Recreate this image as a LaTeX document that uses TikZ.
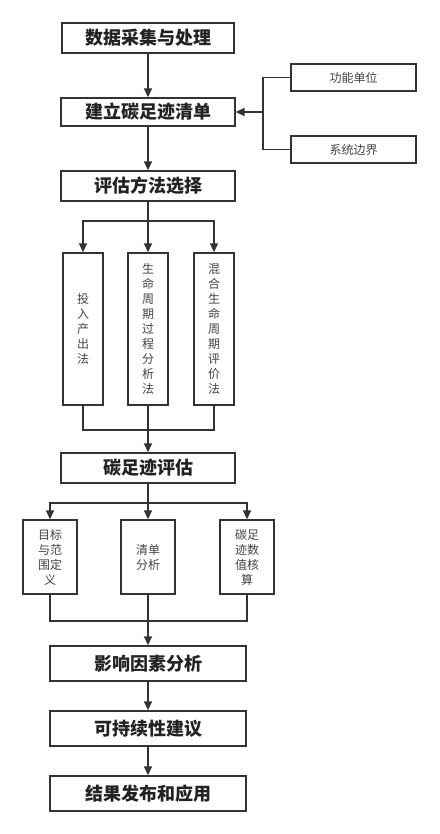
\documentclass[tikz,border=0pt]{standalone}
\usepackage{fontspec}
\setmainfont{Noto Sans CJK SC}
\usetikzlibrary{arrows.meta}
\definecolor{ln}{HTML}{333333}
\definecolor{tx}{HTML}{222222}
\tikzset{
  mainbox/.style={draw=ln, line width=1.4pt, fill=white, text=tx, font=\fontsize{18}{20}\selectfont\bfseries, inner sep=0pt, align=center},
  smallbox/.style={draw=ln, line width=1.4pt, fill=white, text=tx!85, font=\fontsize{12}{15}\selectfont, inner sep=0pt, align=center},
  conn/.style={draw=ln, line width=1.5pt},
  arr/.style={conn, -{Triangle[length=9pt,width=8pt]}}
}
\begin{document}
\begin{tikzpicture}[x=1pt,y=-1pt]
\useasboundingbox (0,0) rectangle (439,834);
% main boxes
\node[mainbox, minimum width=172pt, minimum height=30pt] (b1) at (148,38) {数据采集与处理};
\node[mainbox, minimum width=174pt, minimum height=28pt] (b2) at (148,112) {建立碳足迹清单};
\node[mainbox, minimum width=174pt, minimum height=30pt] (b3) at (148,186) {评估方法选择};
\node[smallbox, minimum width=125pt, minimum height=27pt] (fu) at (353.5,77.5) {功能单位};
\node[smallbox, minimum width=125pt, minimum height=27pt] (sb) at (353.5,149.5) {系统边界};
% method boxes
\node[smallbox, minimum width=40pt, minimum height=152pt] (ma) at (83,329) {投\\入\\产\\出\\法};
\node[smallbox, minimum width=40pt, minimum height=152pt] (mb) at (148,329) {生\\命\\周\\期\\过\\程\\分\\析\\法};
\node[smallbox, minimum width=40pt, minimum height=152pt] (mc) at (214,329) {混\\合\\生\\命\\周\\期\\评\\价\\法};
\node[mainbox, minimum width=174pt, minimum height=30pt] (ev) at (148,468) {碳足迹评估};
% evaluation sub boxes
\node[smallbox, minimum width=54pt, minimum height=74pt] (da) at (50,557) {目标\\与范\\围定\\义};
\node[smallbox, minimum width=54pt, minimum height=74pt] (db) at (148,557) {清单\\分析};
\node[smallbox, minimum width=54pt, minimum height=74pt] (dc) at (247,557) {碳足\\迹数\\值核\\算};
\node[mainbox, minimum width=196pt, minimum height=35pt] (if) at (148,663.5) {影响因素分析};
\node[mainbox, minimum width=196pt, minimum height=35pt] (su) at (148,728.5) {可持续性建议};
\node[mainbox, minimum width=196pt, minimum height=35pt] (rs) at (148,793.5) {结果发布和应用};
% coordinates
\coordinate (br) at (263,112);
\coordinate (f1) at (148,221);
\coordinate (j1) at (148,430);
\coordinate (f2) at (148,503);
\coordinate (j2) at (148,621);
% connectors
\draw[arr] (b1.south) -- (b2.north);
\draw[arr] (b2.south) -- (b3.north);
\draw[conn] (fu.west) -| (br);
\draw[conn] (sb.west) -| (br);
\draw[arr] (br) -- (b2.east);
\draw[conn] (b3.south) -- (f1);
\draw[arr] (f1) -| (ma.north);
\draw[arr] (f1) -- (mb.north);
\draw[arr] (f1) -| (mc.north);
\draw[conn] (ma.south) |- (j1);
\draw[conn] (mc.south) |- (j1);
\draw[conn] (mb.south) -- (j1);
\draw[arr] (j1) -- (ev.north);
\draw[conn] (ev.south) -- (f2);
\draw[arr] (f2) -| (da.north);
\draw[arr] (f2) -- (db.north);
\draw[arr] (f2) -| (dc.north);
\draw[conn] (da.south) |- (j2);
\draw[conn] (dc.south) |- (j2);
\draw[conn] (db.south) -- (j2);
\draw[arr] (j2) -- (if.north);
\draw[arr] (if.south) -- (su.north);
\draw[arr] (su.south) -- (rs.north);
\end{tikzpicture}
\end{document}
